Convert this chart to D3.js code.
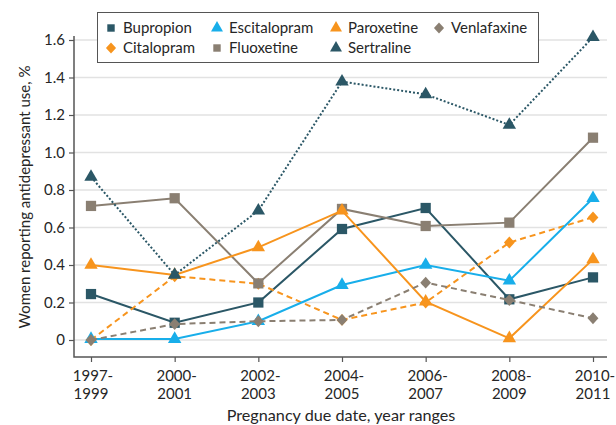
<!DOCTYPE html>
<html lang="en">
<head>
    <meta charset="UTF-8">
    <title>Antidepressant use in pregnancy</title>
    <script src="https://d3js.org/d3.v7.min.js"></script>
    <style>
        body { margin: 0; background: #fff; }
        svg { display: block; }
        text { font-family: Lato, "Open Sans", sans-serif; fill: #262626; }
    </style>
</head>
<body>
    <svg></svg>
    <script>
        const width = 616;
        const height = 425;

        const periods = ["1997-1999", "2000-2001", "2002-2003", "2004-2005", "2006-2007", "2008-2009", "2010-2011"];
        const yTicks = [0, 0.2, 0.4, 0.6, 0.8, 1.0, 1.2, 1.4, 1.6];

        const bupropion = [0.245, 0.092, 0.20, 0.592, 0.704, 0.217, 0.334];
        const citalopram = [0, 0.34, 0.30, 0.107, 0.20, 0.52, 0.654];
        const escitalopram = [0.005, 0.005, 0.10, 0.293, 0.40, 0.316, 0.756];
        const fluoxetine = [0.715, 0.756, 0.302, 0.699, 0.608, 0.626, 1.079];
        const paroxetine = [0.40, 0.347, 0.494, 0.69, 0.204, 0.009, 0.43];
        const sertraline = [0.87, 0.347, 0.69, 1.378, 1.31, 1.147, 1.615];
        const venlafaxine = [0, 0.085, 0.10, 0.107, 0.306, 0.213, 0.116];

        const teal = "#2b5766", blue = "#18aeea", orange = "#f7941d", taupe = "#8a7f72";

        // drawn in alphabetical order
        const series = [
            { name: "Bupropion", values: bupropion, color: teal, dash: null, symbol: "square" },
            { name: "Citalopram", values: citalopram, color: orange, dash: "6,4", symbol: "diamond" },
            { name: "Escitalopram", values: escitalopram, color: blue, dash: null, symbol: "triangle" },
            { name: "Fluoxetine", values: fluoxetine, color: taupe, dash: null, symbol: "square" },
            { name: "Paroxetine", values: paroxetine, color: orange, dash: null, symbol: "triangle" },
            { name: "Sertraline", values: sertraline, color: teal, dash: "2,2", symbol: "triangle" },
            { name: "Venlafaxine", values: venlafaxine, color: taupe, dash: "6,4", symbol: "diamond" }
        ];

        const legendOrder = ["Bupropion", "Escitalopram", "Paroxetine", "Venlafaxine",
                             "Citalopram", "Fluoxetine", "Sertraline"];

        const svg = d3.select("svg")
            .attr("width", width)
            .attr("height", height);

        const x = d3.scalePoint().domain(periods).range([91, 593]);
        const y = d3.scaleLinear().domain([0, 1.6]).range([340, 40]);

        const axisLeft = 74, axisBottom = 357, plotRight = 607;
        const fs = 15;

        // gridlines
        svg.append("g")
            .selectAll("line")
            .data(yTicks)
            .enter().append("line")
            .attr("x1", axisLeft)
            .attr("x2", plotRight)
            .attr("y1", d => y(d))
            .attr("y2", d => y(d))
            .attr("stroke", "#e2e2e2")
            .attr("stroke-width", 1.5);

        // y axis
        const yAxis = svg.append("g")
            .attr("transform", `translate(${axisLeft},0)`)
            .call(d3.axisLeft(y).tickValues(yTicks).tickSize(5).tickPadding(4)
                .tickFormat(d => d === 0 ? "0" : d3.format(".1f")(d)));
        yAxis.select(".domain").remove();
        yAxis.selectAll(".tick line").attr("stroke", "#555").attr("stroke-width", 1.2);
        yAxis.selectAll("text").attr("font-size", fs).attr("fill", "#262626")
            .attr("font-family", "Lato, sans-serif");

        // x axis
        const xAxis = svg.append("g")
            .attr("transform", `translate(0,${axisBottom})`)
            .call(d3.axisBottom(x).tickSize(5).tickFormat(""));
        xAxis.select(".domain").remove();
        xAxis.selectAll(".tick line").attr("stroke", "#555").attr("stroke-width", 1.2);

        svg.append("g").selectAll("text")
            .data(periods)
            .enter().append("text")
            .attr("x", d => x(d))
            .attr("y", 381)
            .attr("text-anchor", "middle")
            .attr("font-size", fs)
            .each(function (d) {
                const parts = d.split("-");
                const t = d3.select(this);
                t.append("tspan").attr("x", x(d) + 2).text(parts[0] + "-");
                t.append("tspan").attr("x", x(d)).attr("dy", 18).text(parts[1]);
            });

        // axis lines
        svg.append("path")
            .attr("d", `M${axisLeft},36V${axisBottom}H${plotRight}`)
            .attr("fill", "none")
            .attr("stroke", "#555")
            .attr("stroke-width", 1.5);

        // axis titles
        svg.append("text")
            .attr("transform", "translate(30,197) rotate(-90)")
            .attr("text-anchor", "middle")
            .attr("font-size", fs)
            .text("Women reporting antidepressant use, %");

        svg.append("text")
            .attr("x", 341)
            .attr("y", 421)
            .attr("text-anchor", "middle")
            .attr("font-size", 16.2)
            .text("Pregnancy due date, year ranges");

        // rotated-square diamond, a bit taller than wide
        const diamondShape = {
            draw(ctx, size) {
                const h = Math.sqrt(size) / 1.7, w = h * 0.92;
                ctx.moveTo(0, -h);
                ctx.lineTo(w, 0);
                ctx.lineTo(0, h);
                ctx.lineTo(-w, 0);
                ctx.closePath();
            }
        };
        const shapeType = { square: d3.symbolSquare, triangle: d3.symbolTriangle, diamond: diamondShape };
        const plotSize = { square: 105, triangle: 78, diamond: 100 };
        const legendSize = { square: 55, triangle: 62, diamond: 88 };

        const line = d3.line()
            .x((d, i) => x(periods[i]))
            .y(d => y(d));

        series.forEach(s => {
            svg.append("path")
                .datum(s.values)
                .attr("d", line)
                .attr("fill", "none")
                .attr("stroke", s.color)
                .attr("stroke-width", 2)
                .attr("stroke-dasharray", s.dash);

            svg.append("g").selectAll("path")
                .data(s.values)
                .enter().append("path")
                .attr("d", d3.symbol().type(shapeType[s.symbol]).size(plotSize[s.symbol]))
                .attr("transform", (d, i) => `translate(${x(periods[i])},${y(d)})`)
                .attr("fill", s.color);
        });

        // legend
        const legend = svg.append("g");
        legend.append("rect")
            .attr("x", 97.5)
            .attr("y", 12.5)
            .attr("width", 441)
            .attr("height", 50)
            .attr("fill", "#fff")
            .attr("stroke", "#555")
            .attr("stroke-width", 1);

        const colX = [111, 217, 336, 439];
        legendOrder.forEach((name, i) => {
            const s = series.find(d => d.name === name);
            const cx = colX[i % 4];
            const cy = i < 4 ? 28 : 48;
            legend.append("path")
                .attr("d", d3.symbol().type(shapeType[s.symbol]).size(legendSize[s.symbol]))
                .attr("transform", `translate(${cx},${cy})`)
                .attr("fill", s.color);
            legend.append("text")
                .attr("x", cx + 12)
                .attr("y", cy + 5)
                .attr("font-size", fs)
                .text(name);
        });
    </script>
</body>
</html>
